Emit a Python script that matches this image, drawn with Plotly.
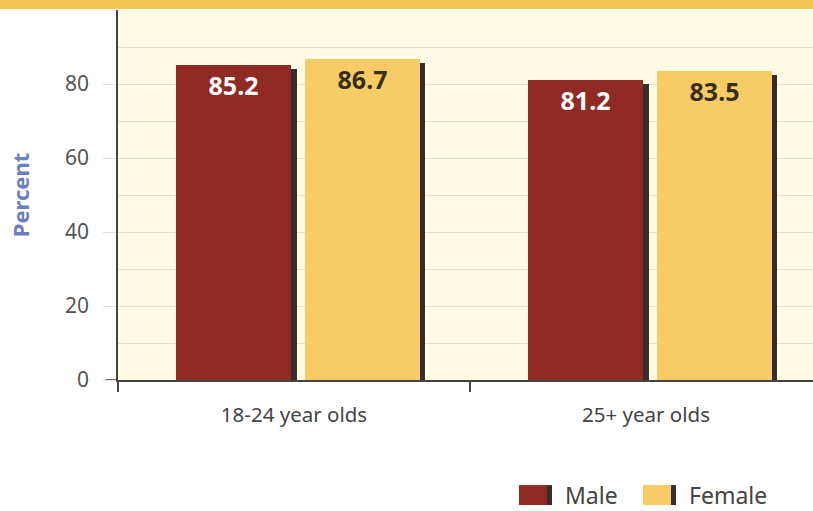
import plotly.graph_objects as go

# Survey results: share (%) by age group and sex
age_groups = ["18-24 year olds", "25+ year olds"]
male = [85.2, 81.2]
female = [86.7, 83.5]
series_names = ["Male", "Female"]

MALE_COLOR = "#8F2A24"
FEMALE_COLOR = "#F7CB65"
SHADOW = "#3A2C2A"
FONT = "Noto Sans"

xpos = list(range(len(age_groups)))
bar_w = 0.327
offsets = {"Male": -0.335, "Female": 0.03}
shadow_shift = 0.016

fig = go.Figure()

# drop shadows sit behind each bar, nudged right and down
for name, vals in (("Male", male), ("Female", female)):
    fig.add_trace(go.Bar(
        x=xpos, y=vals, base=[-1.1] * len(vals), width=bar_w,
        offset=offsets[name] + shadow_shift,
        marker=dict(color=SHADOW, line=dict(width=0)),
        hoverinfo="skip", showlegend=False,
    ))

for name, vals, color, tcolor in (("Male", male, MALE_COLOR, "white"),
                                   ("Female", female, FEMALE_COLOR, "#3A2E12")):
    fig.add_trace(go.Bar(
        x=xpos, y=vals, width=bar_w, offset=offsets[name], name=name,
        marker=dict(color=color, line=dict(width=0)),
        text=[f"{v:.1f}" for v in vals], textposition="inside",
        insidetextanchor="end", textangle=0,
        textfont=dict(family=FONT, size=25, color=tcolor, weight="bold"),
        showlegend=False,
    ))

# header band along the top edge
shapes = [dict(type="rect", xref="paper", yref="paper", x0=-0.2, x1=1.01,
               y0=1.003, y1=1.03, fillcolor="#F5C756", line=dict(width=0), layer="above")]
# dark tick at zero
shapes.append(dict(type="line", xref="paper", yref="y", x0=-0.018, x1=0, y0=0, y1=0,
                   line=dict(color="#444", width=1.5)))

# legend swatches and labels
legend_items = [("Male", MALE_COLOR, 519), ("Female", FEMALE_COLOR, 643)]
annotations = []
for name, color, x0 in legend_items:
    shapes.append(dict(type="rect", xref="paper", yref="paper",
                       x0=(x0 - 118) / 695, x1=(x0 + 28 - 118) / 695,
                       y0=-0.338, y1=-0.284, fillcolor=color, line=dict(width=0)))
    shapes.append(dict(type="rect", xref="paper", yref="paper",
                       x0=(x0 + 28 - 118) / 695, x1=(x0 + 33 - 118) / 695,
                       y0=-0.338, y1=-0.284, fillcolor=SHADOW, line=dict(width=0)))
    annotations.append(dict(xref="paper", yref="paper", x=(x0 + 44 - 118) / 695, y=-0.311,
                            text=name, showarrow=False, xanchor="left", yanchor="middle",
                            font=dict(family=FONT, size=23, color="#444")))

fig.update_layout(
    width=813, height=511,
    margin=dict(l=118, r=0, t=10, b=131),
    paper_bgcolor="white", plot_bgcolor="#FEFCE4",
    barmode="overlay", bargap=0,
    shapes=shapes, annotations=annotations,
    font=dict(family=FONT, color="#555"),
    xaxis=dict(
        range=[-0.5, -0.5 + 695 / 352], tickvals=xpos, ticktext=age_groups,
        ticks="", showgrid=False, zeroline=False,
        showline=True, linecolor="#444", linewidth=1.5,
        tickfont=dict(size=20.5, color="#444"), ticklabelstandoff=16,
        minor=dict(ticks="outside", tick0=-0.5, dtick=1, ticklen=10,
                   tickcolor="#444", tickwidth=1.5, showgrid=False),
    ),
    yaxis=dict(
        range=[0, 100], tickvals=[0, 20, 40, 60, 80],
        showgrid=True, gridcolor="#E3E0CF", gridwidth=1,
        minor=dict(dtick=10, showgrid=True, gridcolor="#E3E0CF", gridwidth=1),
        ticks="outside", ticklen=13, tickcolor="#E3E0CF",
        zeroline=False, showline=True, linecolor="#444", linewidth=1.5,
        tickfont=dict(size=21, color="#555"), ticklabelstandoff=10,
        title=dict(text="<b>Percent</b>", font=dict(size=22, color="#6B7FC4"), standoff=29),
    ),
)

fig.write_html("out.html")
